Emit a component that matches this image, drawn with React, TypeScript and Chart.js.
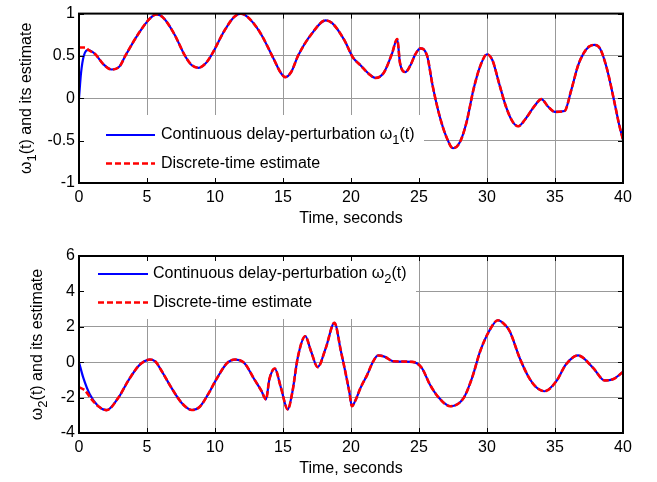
import React, { useEffect, useRef } from "react";
import { Chart, registerables } from "chart.js";

Chart.register(...registerables);

// ---------- data ----------
const xTickStep = 5;
const timeMin = 0;
const timeMax = 40;

// omega_1 : continuous delay-perturbation
const w1Time = [0, 0.15, 0.35, 0.7, 1.2, 1.8, 2.4, 3.0, 3.4, 4.4, 5.2, 5.7, 6.2, 7.0, 7.8, 8.3, 8.8, 9.3, 9.7, 10.7, 11.4, 11.9, 12.4, 13.3, 14.3, 14.8, 15.15, 15.6, 16.1, 17.1, 18.15, 18.6, 19.5, 20.15, 20.7, 21.3, 21.8, 22.4, 23.0, 23.4, 23.6, 24.0, 24.4, 24.7, 25.1, 25.6, 26.0, 26.5, 27.0, 27.5, 28.0, 28.5, 29.0, 29.5, 30.0, 30.4, 30.9, 31.4, 31.9, 32.3, 32.8, 33.5, 34.0, 34.5, 35.0, 35.7, 36.2, 36.7, 37.1, 37.5, 37.9, 38.3, 38.8, 39.4, 39.7, 40.0];
const w1Continuous = [0, 0.3, 0.5, 0.57, 0.52, 0.40, 0.34, 0.38, 0.50, 0.77, 0.94, 0.99, 0.95, 0.76, 0.50, 0.39, 0.36, 0.41, 0.50, 0.80, 0.96, 1.0, 0.96, 0.78, 0.47, 0.31, 0.25, 0.31, 0.50, 0.76, 0.92, 0.89, 0.69, 0.48, 0.39, 0.29, 0.24, 0.30, 0.52, 0.70, 0.42, 0.31, 0.40, 0.51, 0.59, 0.50, 0.15, -0.20, -0.45, -0.59, -0.52, -0.28, 0.10, 0.38, 0.52, 0.45, 0.17, -0.10, -0.28, -0.33, -0.25, -0.09, -0.01, -0.10, -0.16, -0.15, 0.10, 0.39, 0.53, 0.61, 0.63, 0.59, 0.36, -0.07, -0.30, -0.49];
// omega_1 : discrete-time estimate (initial part; afterwards it follows the continuous curve)
const w1EstStartTime = [0, 0.45, 0.7];
const w1EstStartValue = [0.6, 0.6, 0.57];
const w1EstJoinTime = 1.2;

// omega_2 : continuous delay-perturbation
const w2Time = [0, 0.32, 0.8, 1.42, 2.03, 2.9, 3.6, 4.36, 4.8, 5.2, 5.6, 6.08, 6.8, 7.55, 8.3, 8.9, 9.5, 10.15, 10.9, 11.47, 12.15, 12.9, 13.4, 13.75, 14.0, 14.4, 14.85, 15.35, 15.7, 16.08, 16.64, 17.06, 17.55, 18.15, 18.78, 19.26, 19.87, 20.07, 20.3, 20.7, 21.2, 21.6, 22.0, 22.5, 23.1, 24.5, 25.2, 25.8, 26.45, 27.3, 28.3, 28.9, 29.5, 30.15, 30.8, 31.2, 31.67, 32.4, 33.1, 33.6, 34.24, 35.1, 35.8, 36.7, 37.8, 38.65, 39.3, 40.0];
const w2Continuous = [0, -0.89, -1.83, -2.49, -2.71, -2.0, -1.07, -0.23, 0.05, 0.15, 0.05, -0.5, -1.45, -2.3, -2.7, -2.5, -1.8, -0.9, -0.04, 0.15, -0.04, -0.98, -1.6, -2.1, -0.96, -0.36, -1.45, -2.67, -1.64, 0.24, 1.47, 0.62, -0.28, 0.81, 2.22, 0.62, -1.64, -2.49, -2.2, -1.45, -0.7, 0.0, 0.38, 0.3, 0.05, 0.02, -0.32, -1.26, -2.0, -2.49, -2.0, -0.89, 0.62, 1.75, 2.37, 2.2, 1.75, 0.24, -0.89, -1.4, -1.64, -1.07, -0.13, 0.38, -0.32, -1.03, -0.95, -0.55];
// omega_2 : discrete-time estimate (initial part)
const w2EstStartTime = [0, 0.44, 0.93];
const w2EstStartValue = [-1.41, -1.6, -2.1];
const w2EstJoinTime = 1.42;

const xTitle = "Time, seconds";
const legendContinuous = "Continuous delay-perturbation ";
const legendEstimate = "Discrete-time estimate";
const yTitleRest = "(t) and its estimate";
const omega = "\u03C9";

// ---------- helpers ----------
const FONT = '"Liberation Sans", Arial, Helvetica, sans-serif';
const BLUE = "#0000ff";
const RED = "#ff0000";

const toPoints = (t: number[], v: number[]) => t.map((x, i) => ({ x, y: v[i] }));
const estimatePoints = (st: number[], sv: number[], joinT: number, t: number[], v: number[]) => {
  const head = toPoints(st, sv);
  const tail = toPoints(t, v).filter((p) => p.x >= joinT);
  return head.concat(tail);
};

function drawSubText(ctx: CanvasRenderingContext2D, x: number, y: number, parts: { main: string; sub: string; rest: string }, size: number, subSize: number, subShift: number) {
  ctx.font = `${size}px ${FONT}`;
  ctx.fillText(parts.main, x, y);
  let cx = x + ctx.measureText(parts.main).width;
  ctx.font = `${subSize}px ${FONT}`;
  ctx.fillText(parts.sub, cx, y + subShift);
  cx += ctx.measureText(parts.sub).width;
  ctx.font = `${size}px ${FONT}`;
  ctx.fillText(parts.rest, cx, y);
}
function measureSubText(ctx: CanvasRenderingContext2D, parts: { main: string; sub: string; rest: string }, size: number, subSize: number) {
  ctx.font = `${size}px ${FONT}`;
  let w = ctx.measureText(parts.main).width + ctx.measureText(parts.rest).width;
  ctx.font = `${subSize}px ${FONT}`;
  w += ctx.measureText(parts.sub).width;
  return w;
}

const decorPlugin = {
  id: "decor",
  beforeDatasetsDraw(chart: any, _args: any, o: any) {
    const ctx: CanvasRenderingContext2D = chart.ctx;
    const L = o.legend;
    ctx.save();
    ctx.fillStyle = "#ffffff";
    ctx.fillRect(L.box[0], L.box[1], L.box[2] - L.box[0], L.box[3] - L.box[1]);
    ctx.lineCap = "butt";
    ctx.strokeStyle = BLUE;
    ctx.lineWidth = 2.2;
    ctx.setLineDash([]);
    ctx.beginPath();
    ctx.moveTo(L.sample[0], L.rows[0]);
    ctx.lineTo(L.sample[1], L.rows[0]);
    ctx.stroke();
    ctx.strokeStyle = RED;
    ctx.lineWidth = 2.5;
    ctx.setLineDash([6, 3]);
    ctx.beginPath();
    ctx.moveTo(L.sample[0], L.rows[1]);
    ctx.lineTo(L.sample[1], L.rows[1]);
    ctx.stroke();
    ctx.setLineDash([]);
    ctx.fillStyle = "#000";
    ctx.textAlign = "left";
    ctx.textBaseline = "middle";
    drawSubText(ctx, L.textX, L.rows[0], { main: legendContinuous + omega, sub: o.sub, rest: "(t)" }, 16, 13, 5);
    ctx.font = `16px ${FONT}`;
    ctx.fillText(legendEstimate, L.textX, L.rows[1]);
    ctx.restore();
  },
  afterDatasetsDraw(chart: any, _args: any, o: any) {
    const ctx: CanvasRenderingContext2D = chart.ctx;
    const a = chart.chartArea;
    const sx = chart.scales.x;
    const sy = chart.scales.y;
    ctx.save();
    ctx.strokeStyle = "#000";
    ctx.lineWidth = 1;
    const tl = 5;
    ctx.beginPath();
    sx.ticks.forEach((t: any) => {
      const px = Math.round(sx.getPixelForValue(t.value)) + 0.5;
      ctx.moveTo(px, a.bottom);
      ctx.lineTo(px, a.bottom - tl);
      ctx.moveTo(px, a.top);
      ctx.lineTo(px, a.top + tl);
    });
    sy.ticks.forEach((t: any) => {
      const py = Math.round(sy.getPixelForValue(t.value)) + 0.5;
      ctx.moveTo(a.left, py);
      ctx.lineTo(a.left + tl, py);
      ctx.moveTo(a.right, py);
      ctx.lineTo(a.right - tl, py);
    });
    ctx.stroke();
    ctx.lineWidth = 2;
    ctx.strokeRect(a.left, a.top, a.right - a.left, a.bottom - a.top);

    // y-axis title with subscript
    const parts = { main: omega, sub: o.sub, rest: yTitleRest };
    const w = measureSubText(ctx, parts, 16, 13);
    ctx.translate(o.yTitleX, (a.top + a.bottom) / 2);
    ctx.rotate(-Math.PI / 2);
    ctx.fillStyle = "#000";
    ctx.textAlign = "left";
    ctx.textBaseline = "alphabetic";
    drawSubText(ctx, -w / 2, 0, parts, 16, 13, 5);
    ctx.restore();
  },
};

type Spec = {
  cont: { x: number; y: number }[];
  est: { x: number; y: number }[];
  yMin: number;
  yMax: number;
  yStep: number;
  padTop: number;
  xHeight: number;
  xTitlePad: number;
  yTitleX: number;
  sub: string;
  legend: { box: number[]; sample: number[]; rows: number[]; textX: number };
};

const plainNumber = (v: any) => String(Math.round(Number(v) * 1000) / 1000);

function buildConfig(s: Spec): any {
  return {
    type: "line",
    data: {
      datasets: [
        {
          label: "continuous",
          data: s.cont,
          borderColor: BLUE,
          borderWidth: 2.2,
          pointRadius: 0,
          cubicInterpolationMode: "monotone",
          fill: false,
          order: 1,
        },
        {
          label: "estimate",
          data: s.est,
          borderColor: RED,
          borderWidth: 2.6,
          borderDash: [6, 2.5],
          pointRadius: 0,
          cubicInterpolationMode: "monotone",
          fill: false,
          order: 0,
        },
      ],
    },
    options: {
      responsive: false,
      animation: false,
      devicePixelRatio: 1,
      events: [],
      layout: { padding: { top: s.padTop, right: 34, left: 0, bottom: 0 } },
      plugins: {
        legend: { display: false },
        tooltip: { enabled: false },
        decor: { legend: s.legend, yTitleX: s.yTitleX, sub: s.sub },
      },
      scales: {
        x: {
          type: "linear",
          min: timeMin,
          max: timeMax,
          afterFit: (sc: any) => {
            sc.height = s.xHeight;
          },
          ticks: {
            stepSize: xTickStep,
            autoSkip: false,
            maxRotation: 0,
            padding: 5,
            color: "#000",
            font: { family: FONT, size: 16 },
            callback: plainNumber,
          },
          grid: { color: "#999999", lineWidth: 1, drawTicks: false },
          border: { display: false },
          title: {
            display: true,
            text: xTitle,
            color: "#000",
            font: { family: FONT, size: 16 },
            padding: { top: 0, bottom: s.xTitlePad },
          },
        },
        y: {
          type: "linear",
          min: s.yMin,
          max: s.yMax,
          afterFit: (sc: any) => {
            sc.width = 79;
          },
          ticks: {
            stepSize: s.yStep,
            autoSkip: false,
            padding: 4,
            color: "#000",
            font: { family: FONT, size: 16 },
            callback: plainNumber,
          },
          grid: { color: "#999999", lineWidth: 1, drawTicks: false },
          border: { display: false },
        },
      },
    },
    plugins: [decorPlugin],
  };
}

const topSpec: Spec = {
  cont: toPoints(w1Time, w1Continuous),
  est: estimatePoints(w1EstStartTime, w1EstStartValue, w1EstJoinTime, w1Time, w1Continuous),
  yMin: -1,
  yMax: 1,
  yStep: 0.5,
  padTop: 6,
  xHeight: 58,
  xTitlePad: 13,
  yTitleX: 31,
  sub: "1",
  legend: { box: [79, 115, 424, 183], sample: [106, 155], rows: [135, 163.5], textX: 161 },
};

const bottomSpec: Spec = {
  cont: toPoints(w2Time, w2Continuous),
  est: estimatePoints(w2EstStartTime, w2EstStartValue, w2EstJoinTime, w2Time, w2Continuous),
  yMin: -4,
  yMax: 6,
  yStep: 2,
  padTop: 15,
  xHeight: 49,
  xTitlePad: 4,
  yTitleX: 42,
  sub: "2",
  legend: { box: [79, 15, 416, 78], sample: [98, 148], rows: [33, 61.5], textX: 153 },
};

function Panel({ spec, top }: { spec: Spec; top: number }) {
  const ref = useRef<HTMLCanvasElement>(null);
  useEffect(() => {
    const chart = new Chart(ref.current as HTMLCanvasElement, buildConfig(spec));
    return () => chart.destroy();
  }, [spec]);
  return (
    <canvas
      ref={ref}
      width={657}
      height={241}
      style={{ position: "absolute", left: 0, top, width: 657, height: 241, display: "block" }}
    />
  );
}

export default function App() {
  return (
    <div style={{ position: "fixed", left: 0, top: 0, width: 657, height: 482, background: "#ffffff", overflow: "hidden" }}>
      <Panel spec={topSpec} top={0} />
      <Panel spec={bottomSpec} top={241} />
    </div>
  );
}
